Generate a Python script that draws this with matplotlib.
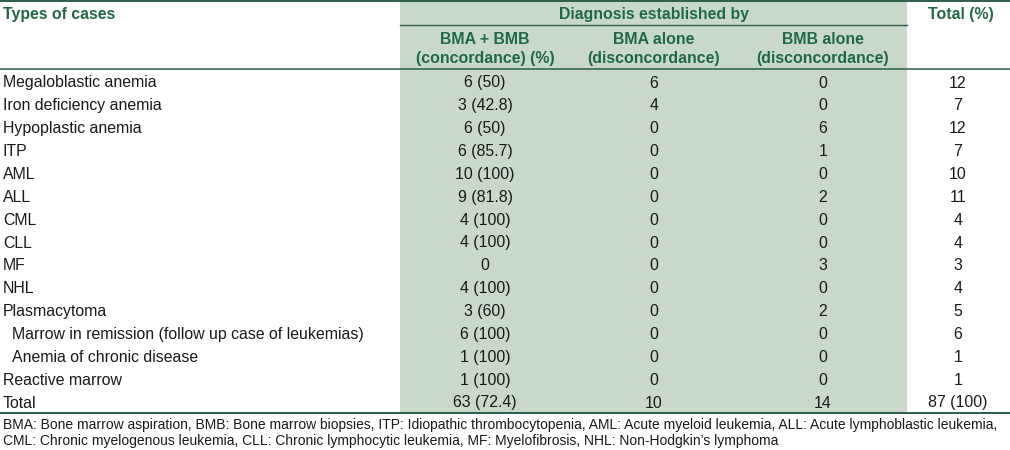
import matplotlib
matplotlib.use("Agg")
import matplotlib.pyplot as plt
from matplotlib.patches import Rectangle

plt.rcParams['font.family'] = ['Liberation Sans', 'DejaVu Sans']

case_types = ["Megaloblastic anemia", "Iron deficiency anemia", "Hypoplastic anemia", "ITP",
              "AML", "ALL", "CML", "CLL", "MF", "NHL", "Plasmacytoma",
              "Marrow in remission (follow up case of leukemias)",
              "Anemia of chronic disease", "Reactive marrow", "Total"]
indented = [False] * 11 + [True, True, False, False]
concordance = ["6 (50)", "3 (42.8)", "6 (50)", "6 (85.7)", "10 (100)", "9 (81.8)", "4 (100)",
               "4 (100)", "0", "4 (100)", "3 (60)", "6 (100)", "1 (100)", "1 (100)", "63 (72.4)"]
bma_alone = ["6", "4", "0", "0", "0", "0", "0", "0", "0", "0", "0", "0", "0", "0", "10"]
bmb_alone = ["0", "0", "6", "1", "0", "2", "0", "0", "3", "0", "2", "0", "0", "0", "14"]
totals = ["12", "7", "12", "7", "10", "11", "4", "4", "3", "4", "5", "6", "1", "1", "87 (100)"]

header_left = "Types of cases"
header_group = "Diagnosis established by"
sub_headers_1 = ["BMA + BMB", "BMA alone", "BMB alone"]
sub_headers_2 = ["(concordance) (%)", "(disconcordance)", "(disconcordance)"]
header_total = "Total (%)"
footnote_lines = [
    "BMA: Bone marrow aspiration, BMB: Bone marrow biopsies, ITP: Idiopathic thrombocytopenia, "
    "AML: Acute myeloid leukemia, ALL: Acute lymphoblastic leukemia,",
    "CML: Chronic myelogenous leukemia, CLL: Chronic lymphocytic leukemia, MF: Myelofibrosis, "
    "NHL: Non-Hodgkin\u2019s lymphoma",
]

W, H = 1010, 450
fig = plt.figure(figsize=(W / 100, H / 100), dpi=100)
ax = fig.add_axes([0, 0, 1, 1])
ax.set_xlim(0, W)
ax.set_ylim(H, 0)
ax.axis('off')

green_fill = '#cad8ca'
green_text = '#1f6a45'
line_col = '#2c5e46'
body_col = '#1a1a1a'
body_fs = 11.4
foot_fs = 10

# shaded block
ax.add_patch(Rectangle((400, 1), 507, 412, facecolor=green_fill, edgecolor='none', zorder=0))

# rules
ax.plot([0, W], [1, 1], color=line_col, lw=1.4)
ax.plot([400, 907], [25, 25], color=line_col, lw=1.0)
ax.plot([0, W], [68.5, 68.5], color=line_col, lw=1.1)
ax.plot([0, W], [413, 413], color=line_col, lw=1.4)

col_x = [485, 654, 823, 958]

# headers
ax.text(3, 14, header_left, ha='left', va='center', fontsize=body_fs, fontweight='bold', color=green_text)
ax.text(654, 14, header_group, ha='center', va='center', fontsize=body_fs, fontweight='bold', color=green_text)
ax.text(961, 14, header_total, ha='center', va='center', fontsize=body_fs, fontweight='bold', color=green_text)
for x, s1, s2 in zip(col_x[:3], sub_headers_1, sub_headers_2):
    ax.text(x, 39.5, s1, ha='center', va='center', fontsize=body_fs, fontweight='bold', color=green_text)
    ax.text(x, 59, s2, ha='center', va='center', fontsize=body_fs, fontweight='bold', color=green_text)

# body
y0, y_last = 83, 403
step = (y_last - y0) / (len(case_types) - 1)
for i, name in enumerate(case_types):
    y = y0 + i * step
    ax.text(12 if indented[i] else 3, y, name, ha='left', va='center', fontsize=body_fs, color=body_col)
    ax.text(col_x[0], y, concordance[i], ha='center', va='center', fontsize=body_fs, color=body_col)
    ax.text(col_x[1], y, bma_alone[i], ha='center', va='center', fontsize=body_fs, color=body_col)
    ax.text(col_x[2], y, bmb_alone[i], ha='center', va='center', fontsize=body_fs, color=body_col)
    ax.text(col_x[3], y, totals[i], ha='center', va='center', fontsize=body_fs, color=body_col)

for k, line in enumerate(footnote_lines):
    ax.text(3, 425 + 16 * k, line, ha='left', va='center', fontsize=foot_fs, color=body_col)

fig.savefig('out.png', dpi=100)
